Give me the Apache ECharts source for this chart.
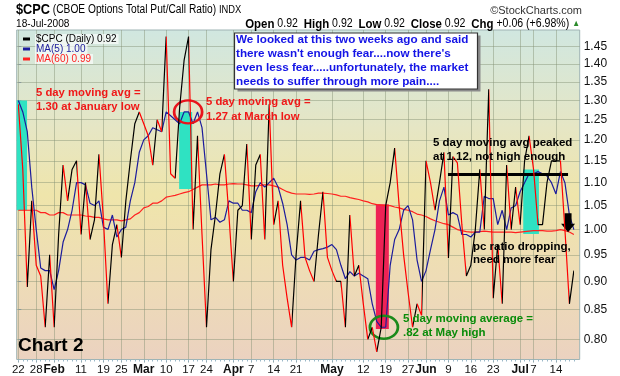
<!DOCTYPE html>
<html>
<head>
<meta charset="utf-8">
<script src="https://cdn.jsdelivr.net/npm/echarts@6/dist/echarts.min.js"></script>
<style>
html, body { margin: 0; padding: 0; background: #fff; }
#chart { width: 620px; height: 376px; }
</style>
</head>
<body>
<div id="chart"></div>
<script>
// trading day index of each labelled date (Jan 22 .. Jul 18 2008)
const tickIdx = [0, 4, 8, 14, 19, 23, 28, 33, 38, 42, 48, 52, 57, 62, 70, 77, 82, 87, 91, 96, 101, 106, 112, 115, 120];
const tickLabels = ['22', '28', 'Feb', '11', '19', '25', 'Mar', '10', '17', '24', 'Apr', '7', '14', '21', 'May', '12', '19', '27', 'Jun', '9', '16', '23', 'Jul', '7', '14'];
const yTicks = [0.80, 0.85, 0.90, 0.95, 1.00, 1.05, 1.10, 1.15, 1.20, 1.25, 1.30, 1.35, 1.40, 1.45];

// $CPC daily close
const cpc = [
  1.29, 1.13, 0.89, 1.06, 0.93, 0.91, 0.82, 0.95, 0.82, 0.99,
  1.14, 1.06, 1.13, 1.15, 0.99, 1.10, 0.98, 1.02, 1.165, 1.02,
  0.86, 0.97, 1.01, 0.945, 1.06, 1.15, 1.24, 1.27, 1.24, 1.21,
  1.14, 1.25, 1.22, 1.48, 1.12, 1.11, 1.28, 1.41, 1.48, 1.00,
  1.21, 0.99, 0.82, 0.96, 1.03, 1.12, 1.165, 1.03, 0.90, 1.04,
  1.05, 1.19, 0.98, 1.14, 1.165, 0.98, 1.29, 1.01, 1.06, 0.93,
  0.87, 0.82, 0.95, 1.06, 0.945, 0.92, 0.90, 0.99, 1.08, 0.945,
  0.92, 0.90, 0.90, 0.82, 1.03, 0.91, 0.93, 0.86, 0.80, 0.82,
  0.78, 0.82, 1.05, 1.10, 1.18, 1.05, 0.95, 0.88, 0.82, 0.86,
  0.84, 1.15, 1.10, 1.04, 1.10, 1.17, 0.944, 1.16, 1.145, 1.01,
  0.91, 0.93, 1.00, 1.13, 1.00, 1.33, 0.87, 0.97, 0.86, 1.14,
  1.00, 1.09, 1.01, 1.15, 1.21, 1.13, 1.01, 1.01, 1.10, 1.15,
  1.15, 1.15, 1.00, 0.86, 0.92
];

// MA(5)
const ma5 = [
  1.30, 1.27, 1.22, 1.09, 1.00, 0.925, 0.92, 0.92, 0.885, 0.92,
  0.975, 1.00, 1.04, 1.10, 1.10, 1.095, 1.055, 1.05, 1.06, 1.005,
  1.00, 1.03, 0.985, 1.00, 1.005, 1.06, 1.10, 1.17, 1.20, 1.21,
  1.23, 1.225, 1.22, 1.27, 1.26, 1.25, 1.24, 1.27, 1.27, 1.24,
  1.27, 1.23, 1.12, 1.02, 1.025, 1.015, 1.02, 1.06, 1.055, 1.055,
  1.04, 1.04, 1.035, 1.08, 1.10, 1.09, 1.10, 1.11, 1.09, 1.055,
  1.01, 0.95, 0.94, 0.945, 0.945, 0.94, 0.957, 0.96, 0.962, 0.965,
  0.97, 0.96, 0.93, 0.905, 0.918, 0.91, 0.915, 0.91, 0.905, 0.86,
  0.83, 0.82, 0.82, 0.93, 0.98, 1.00, 1.04, 1.05, 1.02, 0.94,
  0.90, 0.92, 0.96, 1.00, 1.06, 1.09, 1.03, 1.035, 1.03, 0.99,
  0.99, 0.985, 0.995, 0.995, 1.07, 1.065, 1.065, 1.01, 1.04, 1.00,
  1.045, 1.05, 1.08, 1.10, 1.12, 1.12, 1.125, 1.12, 1.115, 1.10,
  1.075, 1.125, 1.10, 1.03, 1.00
];

// MA(60)
const ma60 = [
  1.04, 1.04, 1.04, 1.04, 1.04, 1.035, 1.035, 1.03, 1.03, 1.035,
  1.035, 1.03, 1.03, 1.03, 1.03, 1.028, 1.027, 1.025, 1.025, 1.022,
  1.02, 1.02, 1.02, 1.018, 1.02, 1.022, 1.03, 1.035, 1.045, 1.048,
  1.055, 1.055, 1.06, 1.068, 1.07, 1.072, 1.075, 1.078, 1.08, 1.085,
  1.09, 1.095, 1.095, 1.095, 1.097, 1.095, 1.095, 1.097, 1.098, 1.097,
  1.097, 1.095, 1.093, 1.093, 1.094, 1.095, 1.095, 1.093, 1.09, 1.085,
  1.08, 1.077, 1.075, 1.075, 1.075, 1.074, 1.075, 1.077, 1.077, 1.076,
  1.075, 1.073, 1.07, 1.07, 1.067, 1.065, 1.063, 1.06, 1.058, 1.054,
  1.052, 1.051, 1.05, 1.05, 1.047, 1.045, 1.042, 1.04, 1.037, 1.032,
  1.03, 1.027, 1.022, 1.018, 1.015, 1.012, 1.01, 1.005, 1.0, 0.998,
  0.996, 0.995, 0.995, 0.996, 0.997, 0.996, 0.995, 0.995, 0.995, 0.995,
  0.995, 0.994, 0.995, 0.996, 0.997, 0.998, 0.998, 0.998, 0.997, 0.997,
  0.998, 1.0, 0.998, 0.995, 0.99
];

const chart = echarts.init(document.getElementById('chart'));
const font = '"Liberation Sans", Arial, sans-serif';

// black segment when the ratio rises, red when it falls
const pieces = [];
for (let i = 0; i < cpc.length - 1; i++) {
  const p = { gte: i, lt: i + 1, color: cpc[i + 1] < cpc[i] ? '#ff0000' : '#000000' };
  if (i === cpc.length - 2) { delete p.lt; p.lte = i + 1; }
  pieces.push(p);
}

const toPairs = arr => arr.map((v, i) => [i, v]);
const dayIdx = cpc.map((v, i) => i);

function annot(x, top, text, color, size, lh) {
  return {
    type: 'text', x: x, y: top, silent: true, z: 60,
    style: {
      text: text, fill: color, font: 'bold ' + size + 'px ' + font,
      lineHeight: lh, textVerticalAlign: 'top'
    }
  };
}

const option = {
  animation: false,
  backgroundColor: '#fff',
  grid: {
    left: 16.7, right: 40.3, top: 30, bottom: 16.5,
    show: true,
    borderColor: '#9fb4b4', borderWidth: 1,
    backgroundColor: new echarts.graphic.LinearGradient(0, 0, 0, 1, [
      { offset: 0, color: '#d0e7e0' },
      { offset: 0.3, color: '#e6e6c4' },
      { offset: 0.5, color: '#efe5ab' },
      { offset: 0.75, color: '#eedcb6' },
      { offset: 1, color: '#ebd2c0' }
    ])
  },
  legend: {
    orient: 'vertical', left: 18, top: 29, itemGap: 0,
    itemWidth: 7, itemHeight: 3, icon: 'rect',
    textStyle: { fontFamily: font, fontSize: 10, padding: [0, 2, 0, 1], backgroundColor: 'rgba(255,255,255,0.65)' },
    data: [
      { name: '$CPC (Daily) 0.92', itemStyle: { color: '#000' }, textStyle: { color: '#000' } },
      { name: 'MA(5) 1.00', itemStyle: { color: '#1c1c9c' }, textStyle: { color: '#1c1c9c' } },
      { name: 'MA(60) 0.99', itemStyle: { color: '#ff2020' }, textStyle: { color: '#ff2020' } }
    ]
  },
  visualMap: {
    type: 'piecewise', show: false, dimension: 0, seriesIndex: 0, pieces: pieces
  },
  xAxis: [
    {
      type: 'value', min: -0.36, max: 125.3,
      axisLine: { show: false },
      axisTick: { customValues: tickIdx, length: 3, lineStyle: { color: '#8a9a9a' } },
      axisLabel: {
        customValues: tickIdx, margin: 4, color: '#111', fontFamily: font, fontSize: 11.5,
        formatter: function (v) {
          const k = tickIdx.indexOf(Math.round(v));
          if (k < 0) return '';
          const t = tickLabels[k];
          return isNaN(Number(t)) ? '{m|' + t + '}' : t;
        },
        rich: { m: { fontWeight: 'bold', fontSize: 12, fontFamily: font, color: '#111' } }
      },
      splitLine: { show: true, lineStyle: { color: 'rgba(130,145,115,0.45)', width: 1 } }
    },
    {
      // small daily ticks under the frame
      type: 'value', min: -0.36, max: 125.3, position: 'bottom',
      axisLine: { show: false },
      axisTick: { customValues: dayIdx, length: 2, lineStyle: { color: '#9ab8c8' } },
      axisLabel: { show: false },
      splitLine: { show: false }
    }
  ],
  yAxis: {
    type: 'log', logBase: 10, min: 0.768, max: 1.50, position: 'right',
    axisLine: { show: false },
    axisTick: { customValues: yTicks, length: 3, lineStyle: { color: '#8a9a9a' } },
    axisLabel: {
      customValues: yTicks, margin: 4, color: '#111', fontFamily: font, fontSize: 12,
      formatter: v => Number(v).toFixed(2)
    },
    splitLine: { show: true, lineStyle: { color: 'rgba(130,145,115,0.45)', width: 1 } }
  },
  series: [
    {
      name: '$CPC (Daily) 0.92', type: 'line', data: toPairs(cpc), z: 5,
      symbol: 'none', lineStyle: { width: 1.2 }, itemStyle: { color: '#000' },
      markLine: {
        silent: true, symbol: ['none', 'none'], label: { show: false },
        lineStyle: { color: '#000', width: 3, type: 'solid' },
        data: [[{ coord: [95.9, 1.12] }, { coord: [122.7, 1.12] }]]
      },
      markPoint: {
        silent: true, label: { show: false },
        data: [
          { coord: [37.9, 1.27], symbol: 'circle', symbolSize: [28, 23],
            itemStyle: { color: 'rgba(0,0,0,0)', borderColor: '#e8141c', borderWidth: 2.5 } },
          { coord: [81.6, 0.82], symbol: 'circle', symbolSize: [28, 23],
            itemStyle: { color: 'rgba(0,0,0,0)', borderColor: '#1b8a1b', borderWidth: 2.5 } },
          { coord: [122.7, 1.014], symbol: 'path://M3,0 L9,0 L9,10 L12,10 L6,18 L0,10 L3,10 Z',
            symbolSize: [14, 19], itemStyle: { color: '#000' } }
        ]
      }
    },
    {
      name: 'MA(5) 1.00', type: 'line', data: toPairs(ma5), z: 4,
      symbol: 'none', lineStyle: { width: 1.2, color: '#1c1c9c' }, itemStyle: { color: '#1c1c9c' }
    },
    {
      name: 'MA(60) 0.99', type: 'line', data: toPairs(ma60), z: 3,
      symbol: 'none', lineStyle: { width: 1.2, color: '#ff2020' }, itemStyle: { color: '#ff2020' },
      markArea: {
        silent: true,
        data: [
          [{ coord: [-0.36, 1.30], itemStyle: { color: '#2fe2c2' } }, { coord: [1.95, 1.04] }],
          [{ coord: [35.9, 1.27], itemStyle: { color: '#2fe2c2' } }, { coord: [38.8, 1.086] }],
          [{ coord: [79.8, 1.053], itemStyle: { color: '#ee2255' } }, { coord: [82.7, 0.817] }],
          [{ coord: [112.7, 1.13], itemStyle: { color: '#2fe2c2' } }, { coord: [116.2, 0.991] }]
        ]
      }
    }
  ],
  graphic: [
    {
      type: 'text', x: 16, y: 10, scaleX: 0.85, silent: true,
      style: {
        text: '{t|$CPC} {s|(CBOE Options Total Put/Call Ratio)} {i|INDX}', textVerticalAlign: 'middle',
        rich: {
          t: { font: 'bold 15px ' + font, fill: '#000' },
          s: { font: '12px ' + font, fill: '#000' },
          i: { font: '11px ' + font, fill: '#000' }
        }
      }
    },
    {
      type: 'text', x: 16, y: 24, scaleX: 0.88, silent: true,
      style: { text: '18-Jul-2008', font: '11.5px ' + font, fill: '#000', textVerticalAlign: 'middle' }
    },
    {
      type: 'text', x: 582, y: 11, silent: true,
      style: { text: '\u00a9StockCharts.com', font: '11px ' + font, fill: '#333', textAlign: 'right', textVerticalAlign: 'middle' }
    },
    {
      type: 'text', x: 580, y: 24, scaleX: 0.88, silent: true,
      style: {
        text: '{b|Open} 0.92  {b|High} 0.92  {b|Low} 0.92  {b|Close} 0.92  {b|Chg} +0.06 (+6.98%) {g|\u25b2}',
        font: '12px ' + font, fill: '#000', textAlign: 'right', textVerticalAlign: 'middle',
        rich: {
          b: { font: 'bold 13px ' + font, fill: '#000' },
          g: { font: '9px ' + font, fill: '#2a8a2a' }
        }
      }
    },
    { type: 'rect', silent: true, z: 50, shape: { x: 237.5, y: 35.5, width: 243, height: 56 }, style: { fill: '#8a8a8a' } },
    { type: 'rect', silent: true, z: 51, shape: { x: 234.5, y: 33, width: 243, height: 56 }, style: { fill: '#fff', stroke: '#333', lineWidth: 1.2 } },
    annot(236, 33, 'We looked at this two weeks ago and said\nthere wasn\'t enough fear....now there\'s\neven less fear.....unfortunately, the market\nneeds to suffer through more pain....', '#1414e6', 11.7, 14),
    annot(36, 85.5, '5 day moving avg =\n1.30 at January low', '#f01818', 11.3, 14.5),
    annot(206, 95, '5 day moving avg =\n1.27 at March low', '#f01818', 11.3, 14.5),
    annot(433, 136, '5 day moving avg peaked\nat 1.12, not high enough', '#000', 11.5, 14),
    annot(473, 240, 'pc ratio dropping,\nneed more fear', '#000', 11.5, 13.5),
    annot(403, 312, '5 day moving average =\n.82 at May high', '#0a8c0a', 11.5, 14),
    annot(18, 335, 'Chart 2', '#000', 19, 22)
  ]
};

chart.setOption(option);
window.addEventListener('resize', function () {
  chart.resize();
});
</script>
</body>
</html>
